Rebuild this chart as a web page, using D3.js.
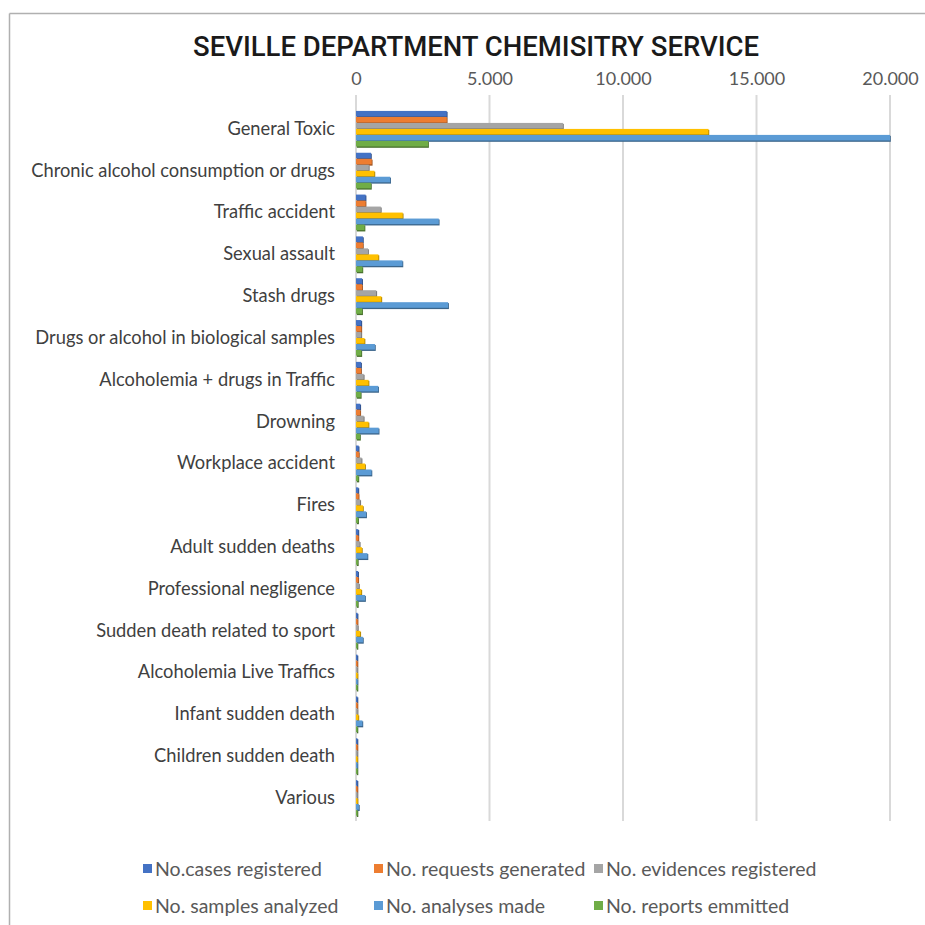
<!DOCTYPE html>
<html>
<head>
<meta charset="utf-8">
<script src="https://cdn.jsdelivr.net/npm/d3@7/dist/d3.min.js"></script>
<style>
  html, body { margin: 0; padding: 0; background: #fff; }
  svg { display: block; }
</style>
</head>
<body>
<svg id="chart" width="925" height="925"></svg>
<script>
// Categories of requests handled by the service
const categories = [
  "General Toxic",
  "Chronic alcohol consumption or drugs",
  "Traffic accident",
  "Sexual assault",
  "Stash drugs",
  "Drugs or alcohol in biological samples",
  "Alcoholemia + drugs in Traffic",
  "Drowning",
  "Workplace accident",
  "Fires",
  "Adult sudden deaths",
  "Professional negligence",
  "Sudden death related to sport",
  "Alcoholemia Live Traffics",
  "Infant sudden death",
  "Children sudden death",
  "Various"
];

const seriesNames = [
  "No.cases registered",
  "No. requests generated",
  "No. evidences registered",
  "No. samples analyzed",
  "No. analyses made",
  "No. reports emmitted"
];

const casesRegistered    = [3400, 560, 360, 260, 230, 200, 190, 160, 100, 90, 90, 80, 60, 40, 50, 30, 40];
const requestsGenerated  = [3400, 590, 360, 260, 230, 200, 190, 160, 110, 100, 90, 85, 60, 40, 50, 30, 40];
const evidencesRegistered= [7750, 480, 930, 450, 760, 200, 290, 290, 210, 160, 140, 110, 70, 40, 60, 30, 40];
const samplesAnalyzed    = [13200, 690, 1750, 840, 950, 320, 470, 470, 340, 260, 220, 200, 160, 60, 90, 40, 60];
const analysesMade       = [20000, 1280, 3100, 1740, 3450, 710, 830, 850, 580, 380, 430, 340, 260, 60, 240, 40, 110];
const reportsEmmitted    = [2700, 560, 320, 240, 230, 200, 180, 150, 90, 80, 70, 70, 50, 40, 40, 30, 40];

const tickValues = [0, 5000, 10000, 15000, 20000];
const tickLabels = ["0", "5.000", "10.000", "15.000", "20.000"];

const seriesValues = [casesRegistered, requestsGenerated, evidencesRegistered,
                      samplesAnalyzed, analysesMade, reportsEmmitted];
const colors = ["#4472C4", "#ED7D31", "#A5A5A5", "#FFC000", "#5B9BD5", "#70AD47"];

const svg = d3.select("#chart");

// outer frame (top and left edges)
svg.append("line").attr("x1", 9.5).attr("y1", 13.5).attr("x2", 925).attr("y2", 13.5)
  .attr("stroke", "#b0b0b0").attr("stroke-width", 1.5);
svg.append("line").attr("x1", 9.5).attr("y1", 13.5).attr("x2", 9.5).attr("y2", 925)
  .attr("stroke", "#b0b0b0").attr("stroke-width", 1.5);

// title, condensed to fit its width
svg.append("text")
  .attr("x", 193).attr("y", 56)
  .attr("font-family", "Roboto, 'Liberation Sans', sans-serif")
  .attr("font-weight", 500)
  .attr("font-size", 28)
  .attr("textLength", 566)
  .attr("lengthAdjust", "spacingAndGlyphs")
  .attr("fill", "#1a1a1a")
  .text("SEVILLE DEPARTMENT CHEMISITRY SERVICE");

const plot = { left: 356, right: 890, top: 108, bottom: 819 };

const x = d3.scaleLinear().domain([0, 20000]).range([plot.left, plot.right]);
const y = d3.scaleBand().domain(categories).range([plot.top, plot.bottom])
  .paddingInner(0.14).paddingOuter(0.07);
const ySub = d3.scaleBand().domain(d3.range(seriesNames.length)).range([0, y.bandwidth()]);

// vertical gridlines
svg.append("g").selectAll("line").data(tickValues).join("line")
  .attr("x1", d => x(d)).attr("x2", d => x(d))
  .attr("y1", 95).attr("y2", 821)
  .attr("stroke", "#d9d9d9").attr("stroke-width", 2);

// top axis labels
const axis = d3.axisTop(x).tickValues(tickValues)
  .tickFormat((d, i) => tickLabels[i]).tickSize(0).tickPadding(0);
const gAxis = svg.append("g").attr("transform", "translate(0,85)").call(axis);
gAxis.select(".domain").remove();
gAxis.selectAll("text")
  .attr("font-family", "Lato, 'Open Sans', sans-serif")
  .attr("font-size", 18)
  .attr("fill", "#595959");

// category labels
const gCat = svg.append("g").attr("transform", `translate(${plot.left - 21},0)`)
  .call(d3.axisLeft(y).tickSize(0).tickPadding(0));
gCat.select(".domain").remove();
gCat.selectAll("text")
  .attr("font-family", "Lato, 'Open Sans', sans-serif")
  .attr("font-size", 18.3)
  .attr("fill", "#404040");

// bars grouped by category, with a darker edge for the raised look
const groups = svg.append("g").selectAll("g").data(categories).join("g")
  .attr("transform", d => `translate(0,${y(d)})`);

groups.each(function(cat, ci) {
  const g = d3.select(this);
  seriesValues.forEach((vals, si) => {
    const v = vals[ci];
    const w = Math.max(x(v) - x(0), 1.5);
    const by = ySub(si);
    const h = ySub.bandwidth();
    g.append("rect")
      .attr("x", x(0) + 0.8).attr("y", by + 0.9)
      .attr("width", w).attr("height", h)
      .attr("fill", d3.color(colors[si]).darker(1.2));
    g.append("rect")
      .attr("x", x(0)).attr("y", by)
      .attr("width", w).attr("height", h - 0.4)
      .attr("fill", colors[si]);
  });
});

// legend
const legendPos = [
  [143, 869], [374, 869], [594, 869],
  [143, 906], [374, 906], [594, 906]
];
const legend = svg.append("g").selectAll("g").data(seriesNames).join("g")
  .attr("transform", (d, i) => `translate(${legendPos[i][0]},${legendPos[i][1]})`);
legend.append("rect")
  .attr("x", 0).attr("y", -5).attr("width", 9).attr("height", 9)
  .attr("fill", (d, i) => colors[i]);
legend.append("text")
  .attr("x", 12).attr("y", 0).attr("dy", "0.35em")
  .attr("font-family", "Lato, 'Open Sans', sans-serif")
  .attr("font-size", 19.5)
  .attr("fill", "#595959")
  .text(d => d);
</script>
</body>
</html>
